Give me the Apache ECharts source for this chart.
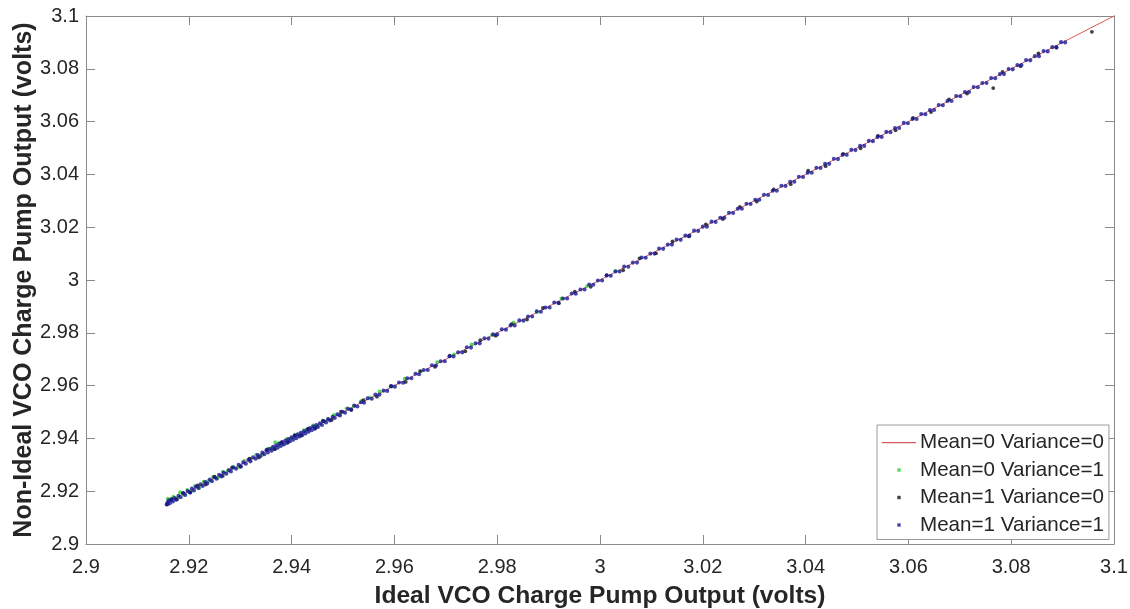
<!DOCTYPE html>
<html>
<head>
<meta charset="utf-8">
<script src="https://cdn.jsdelivr.net/npm/echarts@6/dist/echarts.min.js"></script>
<style>
html,body{margin:0;padding:0;background:#fff;}
#chart{width:1130px;height:609px;}
</style>
</head>
<body>
<div id="chart"></div>
<script>
// ---- data ----
const seriesNames = ['Mean=0 Variance=0','Mean=0 Variance=1','Mean=1 Variance=0','Mean=1 Variance=1'];
const xTickLabels = ['2.9','2.92','2.94','2.96','2.98','3','3.02','3.04','3.06','3.08','3.1'];
const yTickLabels = ['2.9','2.92','2.94','2.96','2.98','3','3.02','3.04','3.06','3.08','3.1'];

// ideal (red line)
const ideal = [[2.9158,2.9158],[2.9400,2.9400],[2.9800,2.9800],[3.0200,3.0200],[3.0600,3.0600],[3.1005,3.1005]];

// Mean=0 Variance=1 (green)
const m0v1 = [
[2.9159,2.9172],[2.9164,2.9167],[2.9170,2.9179],[2.9176,2.9174],[2.9183,2.9196],[2.9190,2.9187],[2.9197,2.9205],
[2.9204,2.9200],[2.9212,2.9220],[2.9220,2.9212],[2.9229,2.9236],[2.9238,2.9239],[2.9247,2.9254],[2.9256,2.9250],
[2.9266,2.9273],[2.9276,2.9278],[2.9286,2.9293],[2.9297,2.9292],[2.9308,2.9315],[2.9320,2.9322],[2.9331,2.9338],
[2.9343,2.9338],[2.9354,2.9361],[2.9362,2.9364],[2.9368,2.9386],[2.9375,2.9382],[2.9383,2.9378],[2.9391,2.9398],
[2.9399,2.9401],[2.9407,2.9414],[2.9416,2.9411],[2.9424,2.9431],[2.9433,2.9435],[2.9442,2.9449],[2.9451,2.9446],
[2.9461,2.9468],[2.9471,2.9473],[2.9482,2.9489],[2.9494,2.9490],[2.9507,2.9514],[2.9521,2.9523],[2.9536,2.9542],
[2.9552,2.9554],[2.9571,2.9578],[2.9594,2.9596],[2.9620,2.9626],[2.9652,2.9654],[2.9683,2.9689],[2.9716,2.9718],
[2.9750,2.9756],[2.9790,2.9792],[2.9832,2.9838],[2.9877,2.9879],[2.9925,2.9930],[2.9975,2.9977],[3.0030,3.0034]
];

// Mean=1 Variance=0 (black)
const m1v0 = [
[2.9158,2.9150],[2.9166,2.9170],[2.9177,2.9169],[2.9189,2.9194],[2.9203,2.9195],[2.9217,2.9222],[2.9233,2.9225],
[2.9250,2.9255],[2.9266,2.9258],[2.9284,2.9289],[2.9301,2.9293],[2.9318,2.9323],[2.9336,2.9328],[2.9352,2.9357],
[2.9367,2.9359],[2.9380,2.9385],[2.9393,2.9385],[2.9406,2.9411],[2.9419,2.9411],[2.9432,2.9437],[2.9446,2.9438],
[2.9461,2.9466],[2.9478,2.9470],[2.9496,2.9501],[2.9516,2.9508],[2.9540,2.9545],[2.9566,2.9558],[2.9593,2.9598],
[2.9622,2.9614],[2.9650,2.9655],[2.9679,2.9671],[2.9708,2.9713],[2.9738,2.9730],[2.9767,2.9772],[2.9797,2.9789],
[2.9828,2.9833],[2.9858,2.9850],[2.9889,2.9894],[2.9920,2.9912],[2.9951,2.9956],[2.9982,2.9974],[3.0013,3.0018],
[3.0045,3.0037],[3.0077,3.0082],[3.0109,3.0101],[3.0141,3.0146],[3.0173,3.0165],[3.0206,3.0211],[3.0239,3.0231],
[3.0272,3.0277],[3.0305,3.0297],[3.0338,3.0343],[3.0371,3.0363],[3.0405,3.0414],[3.0439,3.0431],[3.0473,3.0478],
[3.0507,3.0499],[3.0541,3.0546],[3.0575,3.0567],[3.0609,3.0614],[3.0644,3.0636],[3.0679,3.0684],[3.0714,3.0706],
[3.0765,3.0727],[3.0783,3.0788],[3.0818,3.0810],[3.0853,3.0858],[3.0888,3.0880],[3.0957,3.0940],[3.1003,3.0999]
];

// Mean=1 Variance=1 (blue)
const m1v1 = [
[2.9157,2.9150],[2.9159,2.9158],[2.9161,2.9165],[2.9163,2.9154],[2.9166,2.9168],[2.9169,2.9161],[2.9172,2.9174],
[2.9175,2.9168],[2.9180,2.9183],[2.9184,2.9177],[2.9189,2.9192],[2.9193,2.9186],[2.9198,2.9201],[2.9202,2.9195],
[2.9206,2.9210],[2.9210,2.9203],[2.9214,2.9217],[2.9219,2.9212],[2.9223,2.9226],[2.9227,2.9220],[2.9232,2.9235],
[2.9236,2.9229],[2.9241,2.9244],[2.9245,2.9238],[2.9250,2.9253],[2.9254,2.9247],[2.9259,2.9262],[2.9263,2.9256],
[2.9268,2.9271],[2.9273,2.9266],[2.9278,2.9280],[2.9282,2.9275],[2.9287,2.9290],[2.9292,2.9285],[2.9297,2.9300],
[2.9301,2.9294],[2.9306,2.9309],[2.9311,2.9304],[2.9316,2.9319],[2.9320,2.9313],[2.9325,2.9328],[2.9330,2.9323],
[2.9334,2.9337],[2.9339,2.9332],[2.9343,2.9346],[2.9347,2.9340],[2.9351,2.9355],[2.9354,2.9347],[2.9358,2.9361],
[2.9361,2.9353],[2.9364,2.9368],[2.9367,2.9360],[2.9370,2.9374],[2.9373,2.9365],[2.9376,2.9380],[2.9379,2.9371],
[2.9382,2.9386],[2.9385,2.9377],[2.9388,2.9392],[2.9391,2.9383],[2.9394,2.9398],[2.9397,2.9389],[2.9400,2.9404],
[2.9403,2.9395],[2.9406,2.9410],[2.9409,2.9401],[2.9412,2.9416],[2.9415,2.9407],[2.9418,2.9421],[2.9421,2.9413],
[2.9424,2.9427],[2.9427,2.9419],[2.9430,2.9433],[2.9433,2.9425],[2.9436,2.9439],[2.9439,2.9431],[2.9442,2.9445],
[2.9445,2.9437],[2.9448,2.9451],[2.9451,2.9443],[2.9455,2.9457],[2.9459,2.9451],[2.9463,2.9465],[2.9467,2.9460],
[2.9471,2.9473],[2.9475,2.9468],[2.9480,2.9482],[2.9484,2.9477],[2.9489,2.9491],[2.9494,2.9487],[2.9499,2.9501],
[2.9504,2.9497],[2.9510,2.9512],[2.9516,2.9509],[2.9522,2.9524],[2.9528,2.9521],[2.9535,2.9537],[2.9541,2.9535],
[2.9548,2.9552],[2.9556,2.9550],[2.9563,2.9566],[2.9571,2.9566],[2.9579,2.9581],[2.9586,2.9580],[2.9594,2.9598],
[2.9601,2.9596],[2.9609,2.9612],[2.9617,2.9611],[2.9625,2.9628],[2.9633,2.9628],[2.9641,2.9645],[2.9648,2.9643],
[2.9657,2.9659],[2.9665,2.9659],[2.9673,2.9677],[2.9681,2.9676],[2.9690,2.9692],[2.9698,2.9692],[2.9707,2.9711],
[2.9715,2.9710],[2.9724,2.9726],[2.9732,2.9726],[2.9741,2.9745],[2.9749,2.9744],[2.9758,2.9760],[2.9766,2.9760],
[2.9775,2.9779],[2.9783,2.9778],[2.9792,2.9794],[2.9800,2.9794],[2.9809,2.9813],[2.9817,2.9812],[2.9826,2.9828],
[2.9834,2.9828],[2.9843,2.9847],[2.9851,2.9846],[2.9860,2.9862],[2.9868,2.9862],[2.9877,2.9881],[2.9885,2.9880],
[2.9894,2.9896],[2.9902,2.9896],[2.9911,2.9915],[2.9919,2.9914],[2.9928,2.9930],[2.9936,2.9930],[2.9945,2.9949],
[2.9953,2.9948],[2.9962,2.9964],[2.9970,2.9964],[2.9979,2.9983],[2.9987,2.9982],[2.9996,2.9998],[3.0004,2.9998],
[3.0013,3.0017],[3.0021,3.0016],[3.0030,3.0032],[3.0038,3.0032],[3.0047,3.0051],[3.0055,3.0050],[3.0064,3.0066],
[3.0072,3.0066],[3.0081,3.0085],[3.0089,3.0084],[3.0098,3.0100],[3.0106,3.0100],[3.0115,3.0119],[3.0123,3.0118],
[3.0132,3.0134],[3.0140,3.0134],[3.0149,3.0153],[3.0157,3.0152],[3.0166,3.0168],[3.0174,3.0168],[3.0183,3.0187],
[3.0191,3.0186],[3.0200,3.0202],[3.0208,3.0202],[3.0217,3.0221],[3.0225,3.0220],[3.0234,3.0236],[3.0242,3.0236],
[3.0251,3.0255],[3.0259,3.0254],[3.0268,3.0270],[3.0276,3.0270],[3.0285,3.0289],[3.0293,3.0288],[3.0302,3.0304],
[3.0310,3.0304],[3.0319,3.0323],[3.0327,3.0322],[3.0336,3.0338],[3.0344,3.0338],[3.0353,3.0357],[3.0361,3.0356],
[3.0370,3.0372],[3.0378,3.0372],[3.0387,3.0391],[3.0395,3.0390],[3.0404,3.0406],[3.0412,3.0406],[3.0421,3.0425],
[3.0429,3.0424],[3.0438,3.0440],[3.0446,3.0440],[3.0455,3.0459],[3.0463,3.0458],[3.0472,3.0474],[3.0480,3.0474],
[3.0489,3.0493],[3.0497,3.0492],[3.0506,3.0508],[3.0514,3.0508],[3.0523,3.0527],[3.0531,3.0526],[3.0540,3.0542],
[3.0548,3.0542],[3.0557,3.0561],[3.0565,3.0560],[3.0574,3.0576],[3.0582,3.0576],[3.0591,3.0595],[3.0599,3.0594],
[3.0608,3.0610],[3.0616,3.0610],[3.0625,3.0629],[3.0633,3.0628],[3.0642,3.0644],[3.0650,3.0644],[3.0659,3.0663],
[3.0667,3.0662],[3.0676,3.0678],[3.0684,3.0678],[3.0693,3.0697],[3.0701,3.0696],[3.0710,3.0712],[3.0718,3.0712],
[3.0727,3.0731],[3.0735,3.0730],[3.0744,3.0746],[3.0752,3.0746],[3.0761,3.0765],[3.0769,3.0764],[3.0778,3.0780],
[3.0786,3.0780],[3.0795,3.0799],[3.0803,3.0798],[3.0812,3.0814],[3.0820,3.0814],[3.0829,3.0833],[3.0837,3.0832],
[3.0846,3.0848],[3.0854,3.0848],[3.0863,3.0867],[3.0871,3.0866],[3.0880,3.0882],[3.0888,3.0882],[3.0897,3.0901],
[3.0905,3.0900],[3.1002,3.0996],[3.1006,3.1003],[3.1008,3.0999]
];

// ---- chart ----
const FONT = 'Arial, "Liberation Sans", Helvetica, sans-serif';
const AXIS_COLOR = '#8a8a8a';
const TEXT_COLOR = '#262626';
const tickFmt = (labels) => (v) => labels[Math.round((v - 2.9) / 0.02)];

const dotIcon = 'path://M0,0M34,14M15.3,5.3h3.4v3.4h-3.4z';
const lineIcon = 'path://M0,0M34,14M0,6.5h34v1.2h-34z';

const baseAxis = {
  min: 2.9, max: 3.1, interval: 0.02,
  axisLine: { show: true, onZero: false, lineStyle: { color: AXIS_COLOR, width: 1 } },
  axisTick: { show: true, inside: true, length: 9, lineStyle: { color: AXIS_COLOR, width: 1 } },
  splitLine: { show: false }
};

const chart = echarts.init(document.getElementById('chart'), null, { renderer: 'canvas' });
chart.setOption({
  animation: false,
  backgroundColor: '#ffffff',
  grid: { left: 86, right: 16, top: 16, bottom: 65, containLabel: false, outerBoundsMode: 'none' },
  xAxis: [
    Object.assign({}, baseAxis, {
      type: 'value', position: 'bottom',
      name: 'Ideal VCO Charge Pump Output (volts)',
      nameLocation: 'middle', nameGap: 40, nameMoveOverlap: false,
      nameTextStyle: { fontFamily: FONT, fontSize: 24.6, fontWeight: 'bold', color: TEXT_COLOR },
      axisLabel: { show: true, margin: 13, fontFamily: FONT, fontSize: 20, color: TEXT_COLOR,
        formatter: tickFmt(xTickLabels), showMinLabel: true, showMaxLabel: true }
    }),
    Object.assign({}, baseAxis, { type: 'value', position: 'top', axisLabel: { show: false } })
  ],
  yAxis: [
    Object.assign({}, baseAxis, {
      type: 'value', position: 'left',
      name: 'Non-Ideal VCO Charge Pump Output (volts)',
      nameLocation: 'middle', nameGap: 49, nameMoveOverlap: false,
      nameTextStyle: { fontFamily: FONT, fontSize: 25, fontWeight: 'bold', color: TEXT_COLOR },
      axisLabel: { show: true, margin: 7, fontFamily: FONT, fontSize: 20, color: TEXT_COLOR,
        formatter: tickFmt(yTickLabels), showMinLabel: true, showMaxLabel: true }
    }),
    Object.assign({}, baseAxis, { type: 'value', position: 'right', axisLabel: { show: false } })
  ],
  legend: {
    orient: 'vertical', left: 877, top: 425,
    padding: [7, 5, 4, 5], itemGap: 6.5, itemWidth: 34, itemHeight: 14,
    backgroundColor: '#ffffff', borderColor: '#9a9a9a', borderWidth: 1, borderRadius: 0,
    textStyle: { fontFamily: FONT, fontSize: 20.6, color: TEXT_COLOR, padding: [0, 0, 0, -1] },
    data: [
      { name: seriesNames[0], icon: lineIcon },
      { name: seriesNames[1], icon: dotIcon },
      { name: seriesNames[2], icon: dotIcon },
      { name: seriesNames[3], icon: dotIcon }
    ]
  },
  series: [
    { name: seriesNames[0], type: 'line', data: ideal, showSymbol: false, symbol: 'none',
      lineStyle: { color: '#d45a5a', width: 1 }, itemStyle: { color: '#d45a5a' }, z: 1 },
    { name: seriesNames[1], type: 'scatter', data: m0v1, symbol: 'circle', symbolSize: 3.8,
      itemStyle: { color: '#2ed12e' }, z: 2 },
    { name: seriesNames[2], type: 'scatter', data: m1v0, symbol: 'circle', symbolSize: 3.8,
      itemStyle: { color: '#111111' }, z: 3 },
    { name: seriesNames[3], type: 'scatter', data: m1v1, symbol: 'circle', symbolSize: 4.1,
      itemStyle: { color: '#181896' }, z: 4 }
  ]
});
</script>
</body>
</html>
